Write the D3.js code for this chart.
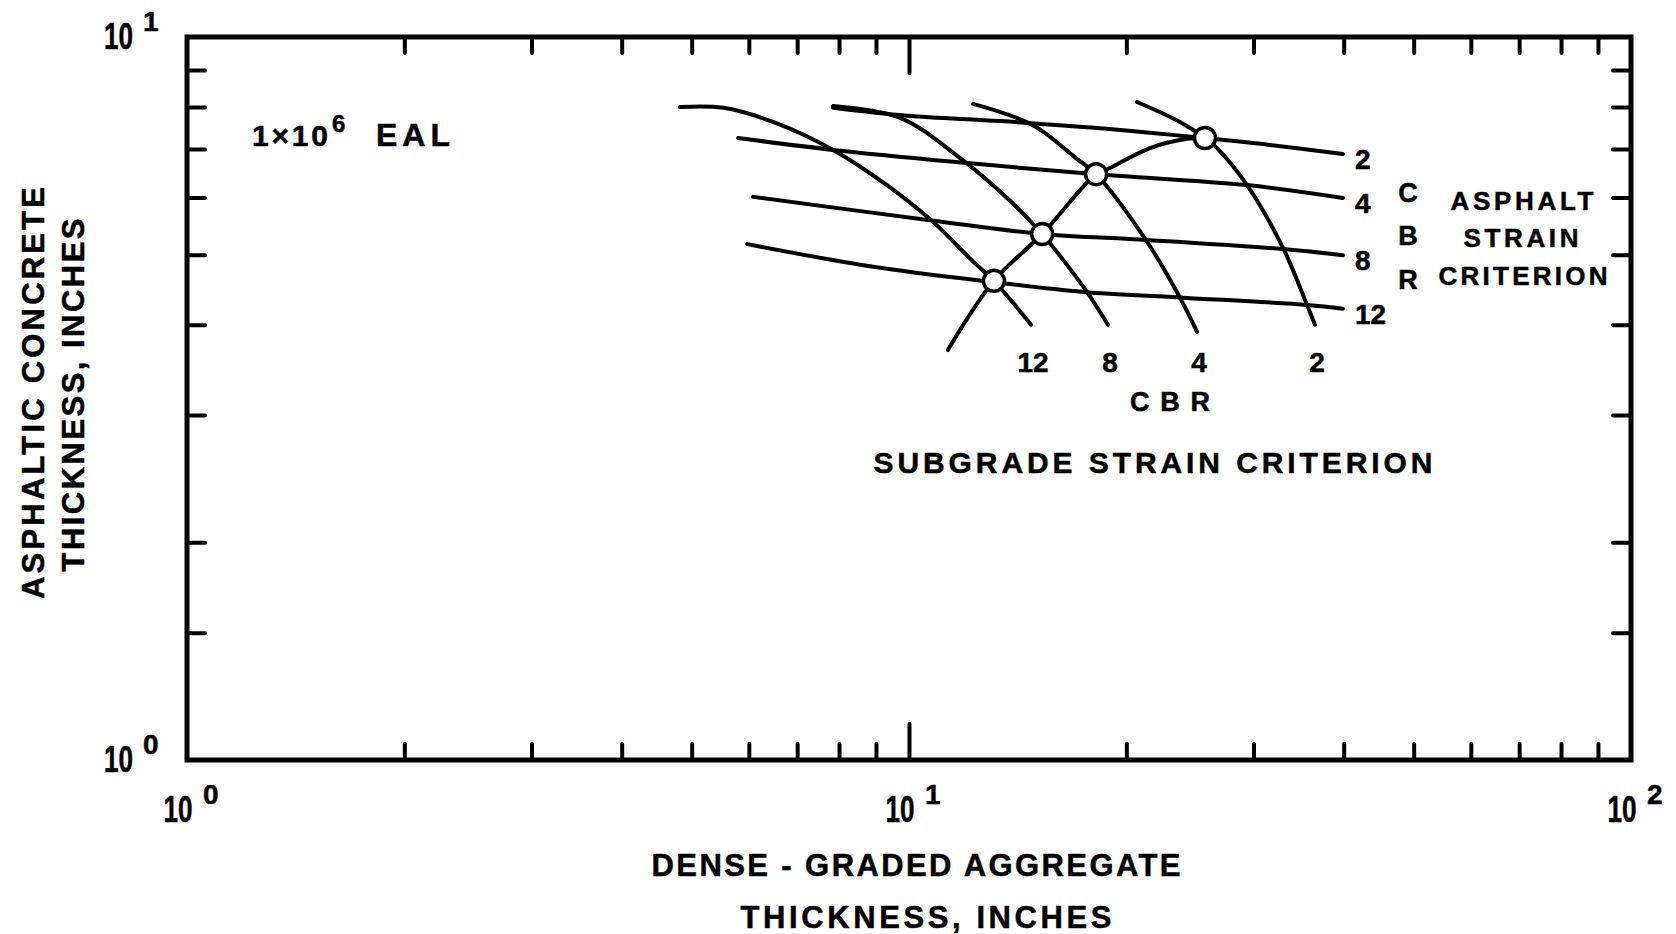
<!DOCTYPE html>
<html>
<head>
<meta charset="utf-8">
<script src="https://cdn.jsdelivr.net/npm/d3@7"></script>
<style>
  body { margin: 0; background: #fff; }
  text { font-family: "Liberation Sans", Arial, sans-serif; font-weight: bold; fill: #000; stroke: #000; stroke-width: 0.5; }
</style>
</head>
<body>
<div id="graph"></div>
<script>
// asphalt strain criterion lines, CBR 2 / 4 / 8 / 12  [aggregate in, asphalt in]
var asphaltCbr2 = [[7.85, 7.98], [9.94, 7.78], [13.37, 7.65], [18.39, 7.48], [25.7, 7.25], [30.93, 7.11], [39.9, 6.89]];
var asphaltCbr4 = [[5.8, 7.25], [7.85, 6.98], [12.15, 6.69], [18.16, 6.46], [29.39, 6.24], [39.9, 5.99]];
var asphaltCbr8 = [[6.08, 6.01], [10.69, 5.58], [15.29, 5.34], [21.36, 5.24], [32.96, 5.09], [39.9, 4.99]];
var asphaltCbr12 = [[5.97, 5.17], [8.92, 4.81], [13.11, 4.58], [17.42, 4.44], [23.96, 4.36], [35.59, 4.26], [39.9, 4.21]];

// subgrade strain criterion curves
var subgradeCbr12 = [[4.82, 8.0], [5.53, 7.98], [6.48, 7.63], [7.85, 6.98], [9.32, 6.24], [10.8, 5.55], [12.27, 4.89], [13.11, 4.6], [14.76, 4.0]];
var subgradeCbr8 = [[7.85, 8.03], [9.72, 7.73], [11.77, 6.8], [13.67, 5.99], [15.29, 5.34], [16.55, 4.84], [17.64, 4.44], [18.86, 4.0]];
var subgradeCbr4 = [[12.27, 8.08], [14.85, 7.55], [17.03, 6.8], [18.16, 6.46], [21.36, 5.21], [23.73, 4.36], [25.06, 3.91]];
var subgradeCbr2 = [[20.69, 8.13], [23.73, 7.63], [25.7, 7.25], [26.71, 7.02], [29.39, 6.24], [32.96, 5.11], [35.59, 4.26], [36.5, 4.0]];

// design points where both criteria meet, and the curve through them
var designPoints = [[13.11, 4.6], [15.29, 5.34], [18.16, 6.46], [25.7, 7.25]];
var designCurve = [[11.32, 3.69], [13.11, 4.6], [15.29, 5.34], [18.16, 6.46], [18.98, 6.59], [21.57, 7.02], [24.27, 7.23], [25.7, 7.25]];

var cbrLabels = ['2', '4', '8', '12'];
var xMinorTicks = [2, 3, 4, 5, 6, 7, 8, 9, 20, 30, 40, 50, 60, 70, 80, 90];
var xMajorTicks = [10];
var yMinorTicks = [1.5, 2, 3, 4, 5, 6, 7, 8, 9];
var xTickLabels = [1, 10, 100];
var yTickLabels = [1, 10];

var width = 1676, height = 934;
var svg = d3.select('#graph').append('svg')
    .attr('width', width)
    .attr('height', height);

var x = d3.scaleLog().domain([1, 100]).range([187, 1631]);
var y = d3.scaleLog().domain([1, 10]).range([760, 37]);

function styleAxis(g) {
    g.select('.domain').remove();
    g.selectAll('.tick line')
        .attr('stroke', '#000')
        .attr('stroke-width', 4)
        .attr('stroke-linecap', 'round');
    g.selectAll('.tick text').remove();
}

svg.append('g').attr('transform', 'translate(0,760)')
    .call(d3.axisBottom(x).tickValues(xMinorTicks).tickSize(-16)).call(styleAxis);
svg.append('g').attr('transform', 'translate(0,760)')
    .call(d3.axisBottom(x).tickValues(xMajorTicks).tickSize(-36)).call(styleAxis);
svg.append('g').attr('transform', 'translate(0,37)')
    .call(d3.axisTop(x).tickValues(xMinorTicks).tickSize(-16)).call(styleAxis);
svg.append('g').attr('transform', 'translate(0,37)')
    .call(d3.axisTop(x).tickValues(xMajorTicks).tickSize(-36)).call(styleAxis);
svg.append('g').attr('transform', 'translate(187,0)')
    .call(d3.axisLeft(y).tickValues(yMinorTicks).tickSize(-18)).call(styleAxis);
svg.append('g').attr('transform', 'translate(1631,0)')
    .call(d3.axisRight(y).tickValues(yMinorTicks).tickSize(-18)).call(styleAxis);

// frame
svg.append('rect')
    .attr('x', x(1)).attr('y', y(10))
    .attr('width', x(100) - x(1)).attr('height', y(1) - y(10))
    .attr('fill', 'none').attr('stroke', '#000').attr('stroke-width', 5);

// power-of-ten tick labels
xTickLabels.forEach(function(v) {
    var cx = x(v) - 9;
    svg.append('text').attr('x', cx).attr('y', 822)
        .attr('text-anchor', 'middle').attr('font-size', 36)
        .attr('textLength', 29).attr('lengthAdjust', 'spacingAndGlyphs')
        .text('10');
    svg.append('text').attr('x', cx + 25).attr('y', 804)
        .attr('font-size', 28)
        .text(Math.round(Math.log10(v)));
});
yTickLabels.forEach(function(v) {
    var by = y(v) + 12;
    svg.append('text').attr('x', 133).attr('y', by)
        .attr('text-anchor', 'end').attr('font-size', 36)
        .attr('textLength', 29).attr('lengthAdjust', 'spacingAndGlyphs')
        .text('10');
    svg.append('text').attr('x', 143).attr('y', by - 18)
        .attr('font-size', 28)
        .text(Math.round(Math.log10(v)));
});

var line = d3.line()
    .x(function(d) { return x(d[0]); })
    .y(function(d) { return y(d[1]); })
    .curve(d3.curveCatmullRom.alpha(0.5));

var asphalt = [asphaltCbr2, asphaltCbr4, asphaltCbr8, asphaltCbr12];
var subgrade = [subgradeCbr2, subgradeCbr4, subgradeCbr8, subgradeCbr12];

asphalt.concat(subgrade).concat([designCurve]).forEach(function(s) {
    svg.append('path')
        .attr('d', line(s))
        .attr('fill', 'none')
        .attr('stroke', '#000')
        .attr('stroke-width', 4)
        .attr('stroke-linecap', 'round');
});

svg.selectAll('circle.design')
    .data(designPoints)
    .enter().append('circle')
    .attr('class', 'design')
    .attr('cx', function(d) { return x(d[0]); })
    .attr('cy', function(d) { return y(d[1]); })
    .attr('r', 10.5)
    .attr('fill', '#fff')
    .attr('stroke', '#000')
    .attr('stroke-width', 3.5);

// CBR labels at right end of asphalt lines
asphalt.forEach(function(s, i) {
    var last = s[s.length - 1];
    svg.append('text')
        .attr('x', x(last[0]) + 12)
        .attr('y', y(last[1]) + 15)
        .attr('font-size', 28)
        .text(cbrLabels[i]);
});
// CBR labels under subgrade curves
subgrade.forEach(function(s, i) {
    var last = s[s.length - 1];
    svg.append('text')
        .attr('x', x(last[0]) + 2)
        .attr('y', 372)
        .attr('text-anchor', 'middle')
        .attr('font-size', 28)
        .text(cbrLabels[i]);
});

function label(txt, px, py, size, len, anchor) {
    var t = svg.append('text')
        .attr('x', px).attr('y', py)
        .attr('font-size', size)
        .attr('text-anchor', anchor || 'middle')
        .text(txt);
    if (len) t.attr('textLength', len).attr('lengthAdjust', 'spacing');
    return t;
}

label('CBR', 1170, 411, 27, 80);
label('SUBGRADE STRAIN CRITERION', 1153, 473, 30, 559);

label('C', 1408, 202, 27);
label('B', 1408, 245, 27);
label('R', 1408, 289, 27);
label('ASPHALT', 1522, 210, 26, 143);
label('STRAIN', 1521, 247, 26, 115);
label('CRITERION', 1523, 285, 26, 169);

// traffic annotation
label('1×10', 252, 146, 30, 76, 'start');
label('6', 332, 132, 24, null, 'start');
label('EAL', 376, 146, 32, 74, 'start');

// axis titles
label('DENSE - GRADED AGGREGATE', 916, 876, 31, 529);
label('THICKNESS, INCHES', 926, 928, 31, 371);

svg.append('text')
    .attr('transform', 'translate(44,393) rotate(-90)')
    .attr('text-anchor', 'middle').attr('font-size', 31)
    .attr('textLength', 412).attr('lengthAdjust', 'spacing')
    .text('ASPHALTIC CONCRETE');
svg.append('text')
    .attr('transform', 'translate(84,395) rotate(-90)')
    .attr('text-anchor', 'middle').attr('font-size', 31)
    .attr('textLength', 353).attr('lengthAdjust', 'spacing')
    .text('THICKNESS, INCHES');
</script>
</body>
</html>
